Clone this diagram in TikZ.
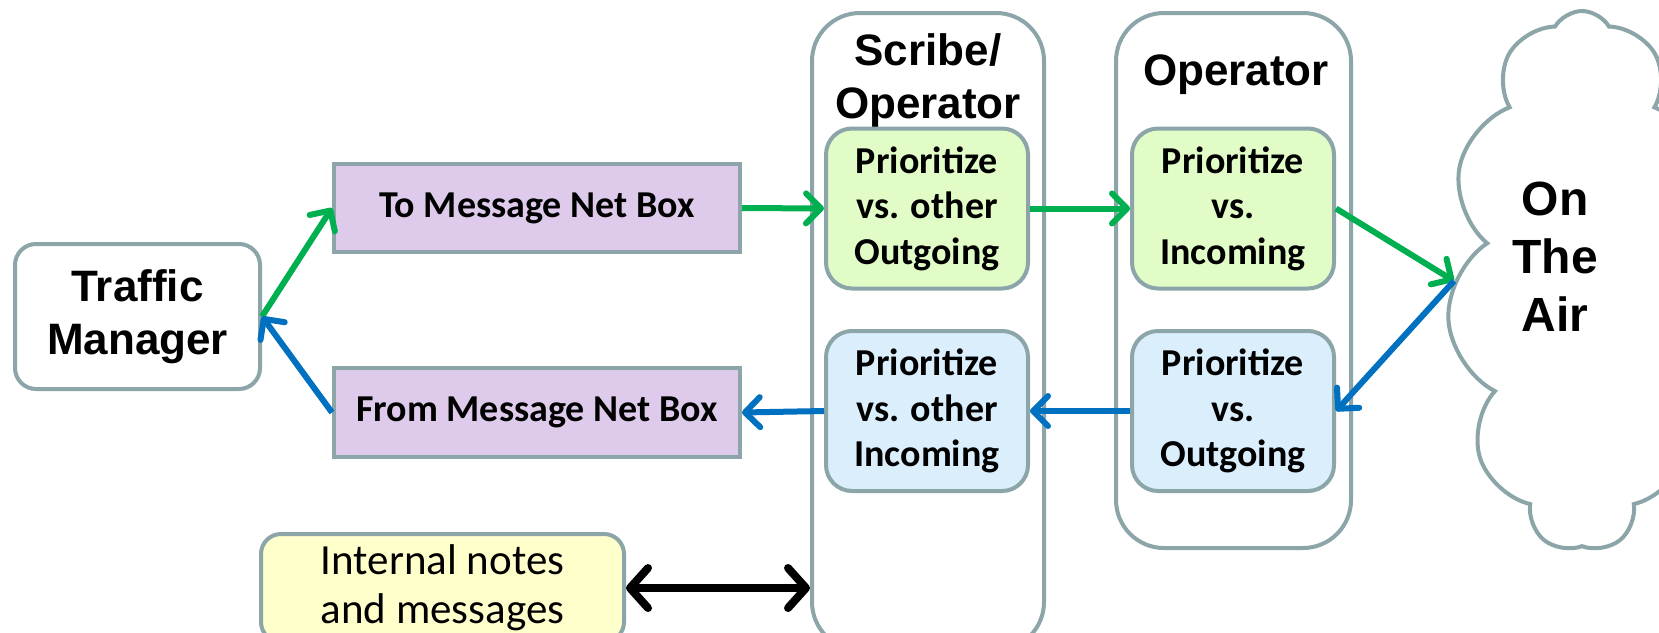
\documentclass[tikz,border=0pt]{standalone}
\usepackage{fontspec}
\setmainfont{Liberation Sans}
\newfontfamily\arialf{Liberation Sans}
\newfontfamily\calibrif{Carlito}
\usetikzlibrary{arrows.meta,shapes.symbols}
\definecolor{bordc}{RGB}{139,165,168}
\definecolor{purp}{RGB}{222,203,236}
\definecolor{grnf}{RGB}{226,252,200}
\definecolor{bluf}{RGB}{218,238,252}
\definecolor{yelf}{RGB}{255,255,204}
\definecolor{garr}{RGB}{0,176,80}
\definecolor{barr}{RGB}{0,112,192}
\tikzset{
  boxbase/.style={draw=bordc, line width=2pt, align=center, inner sep=0pt},
  tmbox/.style={boxbase, fill=white, rounded corners=10.5pt, minimum width=122.5pt, minimum height=72.5pt,
     font=\arialf\bfseries\fontsize{22pt}{26.5pt}\selectfont},
  netbox/.style={boxbase, fill=purp, minimum width=203pt, minimum height=44pt,
     font=\calibrif\bfseries\fontsize{19pt}{22pt}\selectfont},
  colbox/.style={boxbase, fill=white, rounded corners=24pt, minimum width=116pt},
  prio/.style={boxbase, rounded corners=13pt, minimum width=101pt, minimum height=80pt,
     font=\calibrif\bfseries\fontsize{19pt}{22.75pt}\selectfont},
  title/.style={align=center, inner sep=0pt, font=\arialf\bfseries\fontsize{22pt}{26.5pt}\selectfont},
  notebox/.style={boxbase, fill=yelf, rounded corners=10pt, minimum width=181.5pt, minimum height=54pt,
     font=\calibrif\fontsize{21.5pt}{24.5pt}\selectfont},
  tipc/.style={-{Straight Barb[length=7.5pt,width=15pt,line width=3pt,round]}},
  garrow/.style={draw=garr, line width=3pt, tipc},
  barrow/.style={draw=barr, line width=3pt, tipc},
  karrow/.style={draw=black, line width=3.8pt,
     {Straight Barb[length=9pt,width=20pt,line width=4pt,round]}-{Straight Barb[length=9pt,width=20pt,line width=4pt,round]}},
}
\begin{document}
\begin{tikzpicture}[x=0.5pt,y=-0.5pt]
\useasboundingbox (0,0) rectangle (1659,632);
\clip (0,0) rectangle (1659,632);
\fill[white] (0,0) rectangle (1659,632);
% columns
\node[colbox, minimum height=318.5pt] (scribe) at (928,331.5) {};
\node[colbox, minimum width=117.5pt, minimum height=267.5pt] (opcol) at (1233.5,280.5) {};
\node[title] (scribeT) at (928,81) {Scribe/\\Operator};
\node[title] (opT) at (1236,75) {Operator};
% cloud
\node[cloud, cloud puffs=11, cloud puff arc=120, cloud ignores aspect, draw=bordc, line width=2pt,
      fill=white, minimum width=135pt, minimum height=270pt] (air) at (1582,281) {};
\node[align=center, inner sep=0pt, font=\arialf\bfseries\fontsize{24pt}{29pt}\selectfont] (airT) at (1555,257) {On\\The\\Air};
% boxes
\node[tmbox] (tm) at (137.5,316.5) {Traffic\\Manager};
\node[netbox] (to) at (537,208) {To Message Net Box};
\node[netbox, minimum height=44.5pt] (from) at (537,412.5) {From Message Net Box};
\node[prio, fill=grnf] (g1) at (927,208.5) {Prioritize\\vs. other\\Outgoing};
\node[prio, fill=grnf] (g2) at (1233,208.5) {Prioritize\\vs.\\Incoming};
\node[prio, fill=bluf] (b1) at (927,411) {Prioritize\\vs. other\\Incoming};
\node[prio, fill=bluf] (b2) at (1233,411) {Prioritize\\vs.\\Outgoing};
\node[notebox] (notes) at (442.5,588) {Internal notes\\and messages};
\coordinate (airin) at (1454,281);
% connectors
\draw[garrow] (tm.east) -- (to.west);
\draw[barrow] (from.west) -- (tm.east);
\draw[garrow] (to.east) -- (g1.west);
\draw[garrow] (g1.east) -- (g2.west);
\draw[garrow] (g2.east) -- (airin);
\draw[barrow] (airin) -- (b2.east);
\draw[barrow] (b2.west) -- (b1.east);
\draw[barrow] (b1.west) -- (from.east);
\draw[karrow] (notes.east) -- (notes.east -| scribe.west);
\end{tikzpicture}
\end{document}
